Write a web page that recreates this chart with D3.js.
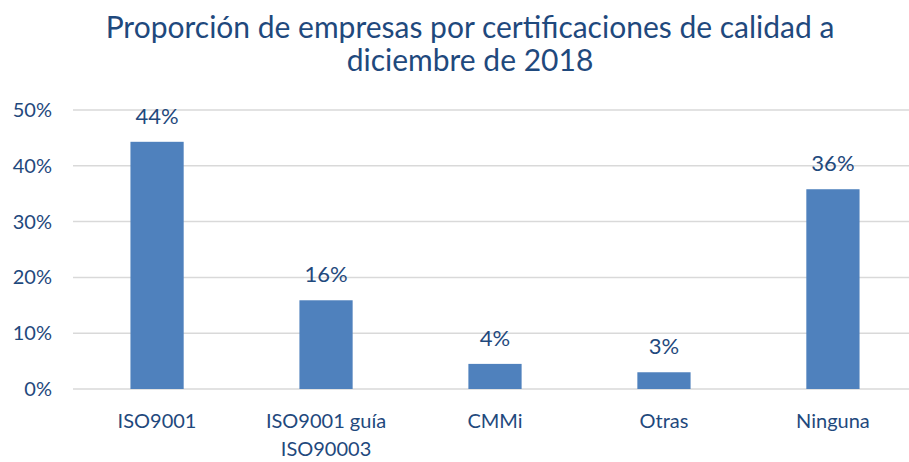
<!DOCTYPE html>
<html>
<head>
<meta charset="utf-8">
<script src="https://cdn.jsdelivr.net/npm/d3@7"></script>
<style>
  body { margin: 0; background: #fff; }
  text { font-family: Lato, "Open Sans", sans-serif; fill: #1F497D; }
</style>
</head>
<body>
<svg id="chart" width="909" height="462"></svg>
<script>
// data
var categories = ["ISO9001", "ISO9001 guía ISO90003", "CMMi", "Otras", "Ninguna"];
var values = [0.443, 0.159, 0.045, 0.030, 0.358];
var valueLabels = ["44%", "16%", "4%", "3%", "36%"];
var yTicks = [0, 0.1, 0.2, 0.3, 0.4, 0.5];
var titleLines = ["Proporción de empresas por certificaciones de calidad a", "diciembre de 2018"];

var svg = d3.select("#chart");
var W = 909, H = 462;
var plotLeft = 73, plotRight = 917, gridRight = 909;
var plotTop = 110, plotBottom = 389;

var x = d3.scaleBand()
	.domain(categories)
	.range([plotLeft, plotRight])
	.paddingInner(0.685)
	.paddingOuter(0.34);

var y = d3.scaleLinear()
	.domain([0, 0.5])
	.range([plotBottom, plotTop]);

// gridlines
svg.append("g")
	.selectAll("line")
	.data(yTicks)
	.enter().append("line")
	.attr("x1", plotLeft)
	.attr("x2", gridRight)
	.attr("y1", function(d) { return y(d); })
	.attr("y2", function(d) { return y(d); })
	.attr("stroke", "#D9D9D9")
	.attr("stroke-width", 1.5);

// y axis labels
var yAxis = d3.axisLeft(y)
	.tickValues(yTicks)
	.tickFormat(d3.format(".0%"))
	.tickSize(0)
	.tickPadding(21);
var yg = svg.append("g")
	.attr("transform", "translate(" + plotLeft + ",0)")
	.call(yAxis);
yg.select(".domain").remove();
yg.selectAll("text")
	.style("font-size", "20px")
	.attr("fill", "#1F497D");

// bars
svg.append("g")
	.selectAll("rect")
	.data(values)
	.enter().append("rect")
	.attr("x", function(d, i) { return x(categories[i]); })
	.attr("y", function(d) { return y(d); })
	.attr("width", x.bandwidth())
	.attr("height", function(d) { return y(0) - y(d); })
	.attr("fill", "#4F81BD");

// value labels
svg.append("g")
	.selectAll("text")
	.data(values)
	.enter().append("text")
	.attr("x", function(d, i) { return x(categories[i]) + x.bandwidth() / 2; })
	.attr("y", function(d) { return y(d) - 18; })
	.attr("text-anchor", "middle")
	.style("font-size", "22px")
	.text(function(d, i) { return valueLabels[i]; });

// category labels (wrapped like the original)
var catLines = {"ISO9001 guía ISO90003": ["ISO9001 guía", "ISO90003"]};
var xg = svg.append("g");
categories.forEach(function(c) {
	var lines = catLines[c] || [c];
	var t = xg.append("text")
		.attr("x", x(c) + x.bandwidth() / 2)
		.attr("y", 428)
		.attr("text-anchor", "middle")
		.style("font-size", "20px");
	lines.forEach(function(l, j) {
		t.append("tspan")
			.attr("x", x(c) + x.bandwidth() / 2)
			.attr("dy", j === 0 ? 0 : 28)
			.text(l);
	});
});

// title
svg.append("g")
	.selectAll("text")
	.data(titleLines)
	.enter().append("text")
	.attr("x", 470)
	.attr("y", function(d, i) { return 38 + i * 33; })
	.attr("text-anchor", "middle")
	.style("font-size", "30px")
	.text(function(d) { return d; });
</script>
</body>
</html>
